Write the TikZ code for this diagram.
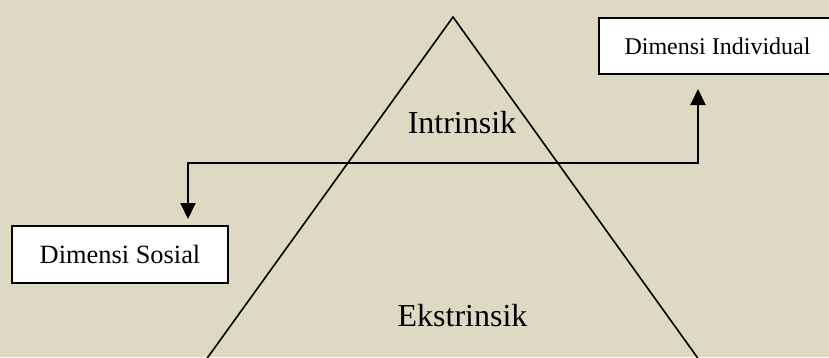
\documentclass[tikz,border=0pt]{standalone}
\usepackage{fontspec}
\setmainfont{Liberation Serif}
\usetikzlibrary{positioning, arrows.meta}
\definecolor{tanbg}{RGB}{221,217,195}

\begin{document}
\begin{tikzpicture}[
    x=1pt, y=-1pt,
    dim/.style={
        rectangle,
        draw=black,
        fill=white,
        line width=2pt,
        inner sep=0pt,
    },
    level/.style={font=\fontsize{32}{38}\selectfont, anchor=base},
    side/.style={line width=1.6pt},
    conn/.style={{Triangle[width=15pt, length=16pt]}-{Triangle[width=15pt, length=16pt]}, line width=2pt}
]
\fill[tanbg] (0,0) rectangle (829,357);
\useasboundingbox (0,0) rectangle (829,357);
\clip (0,0) rectangle (829,357);

\coordinate (Top) at (453,17);
\coordinate (BotL) at (204.4,362);
\coordinate (BotR) at (700.6,362);
\draw[side] (BotL) -- (Top) -- (BotR);

\node[level] (Intr) at (462,133) {Intrinsik};
\node[level] (Ekst) at (462.5,326) {Ekstrinsik};

\node[dim, minimum width=216pt, minimum height=57pt,
      font=\fontsize{26.4}{32}\selectfont] (Sosial) at (120,254.5) {Dimensi Sosial};
\node[dim, minimum width=237pt, minimum height=56pt,
      font=\fontsize{24}{29}\selectfont] (Indiv) at (717.5,46) {Dimensi Individual};

\coordinate (BendL) at (188,163);
\coordinate (BendR) at (698,163);
\draw[conn, shorten <=6pt, shorten >=14pt]
    (Sosial.north -| BendL) -- (BendL) -- (BendR) -- (Indiv.south -| BendR);
\end{tikzpicture}
\end{document}
